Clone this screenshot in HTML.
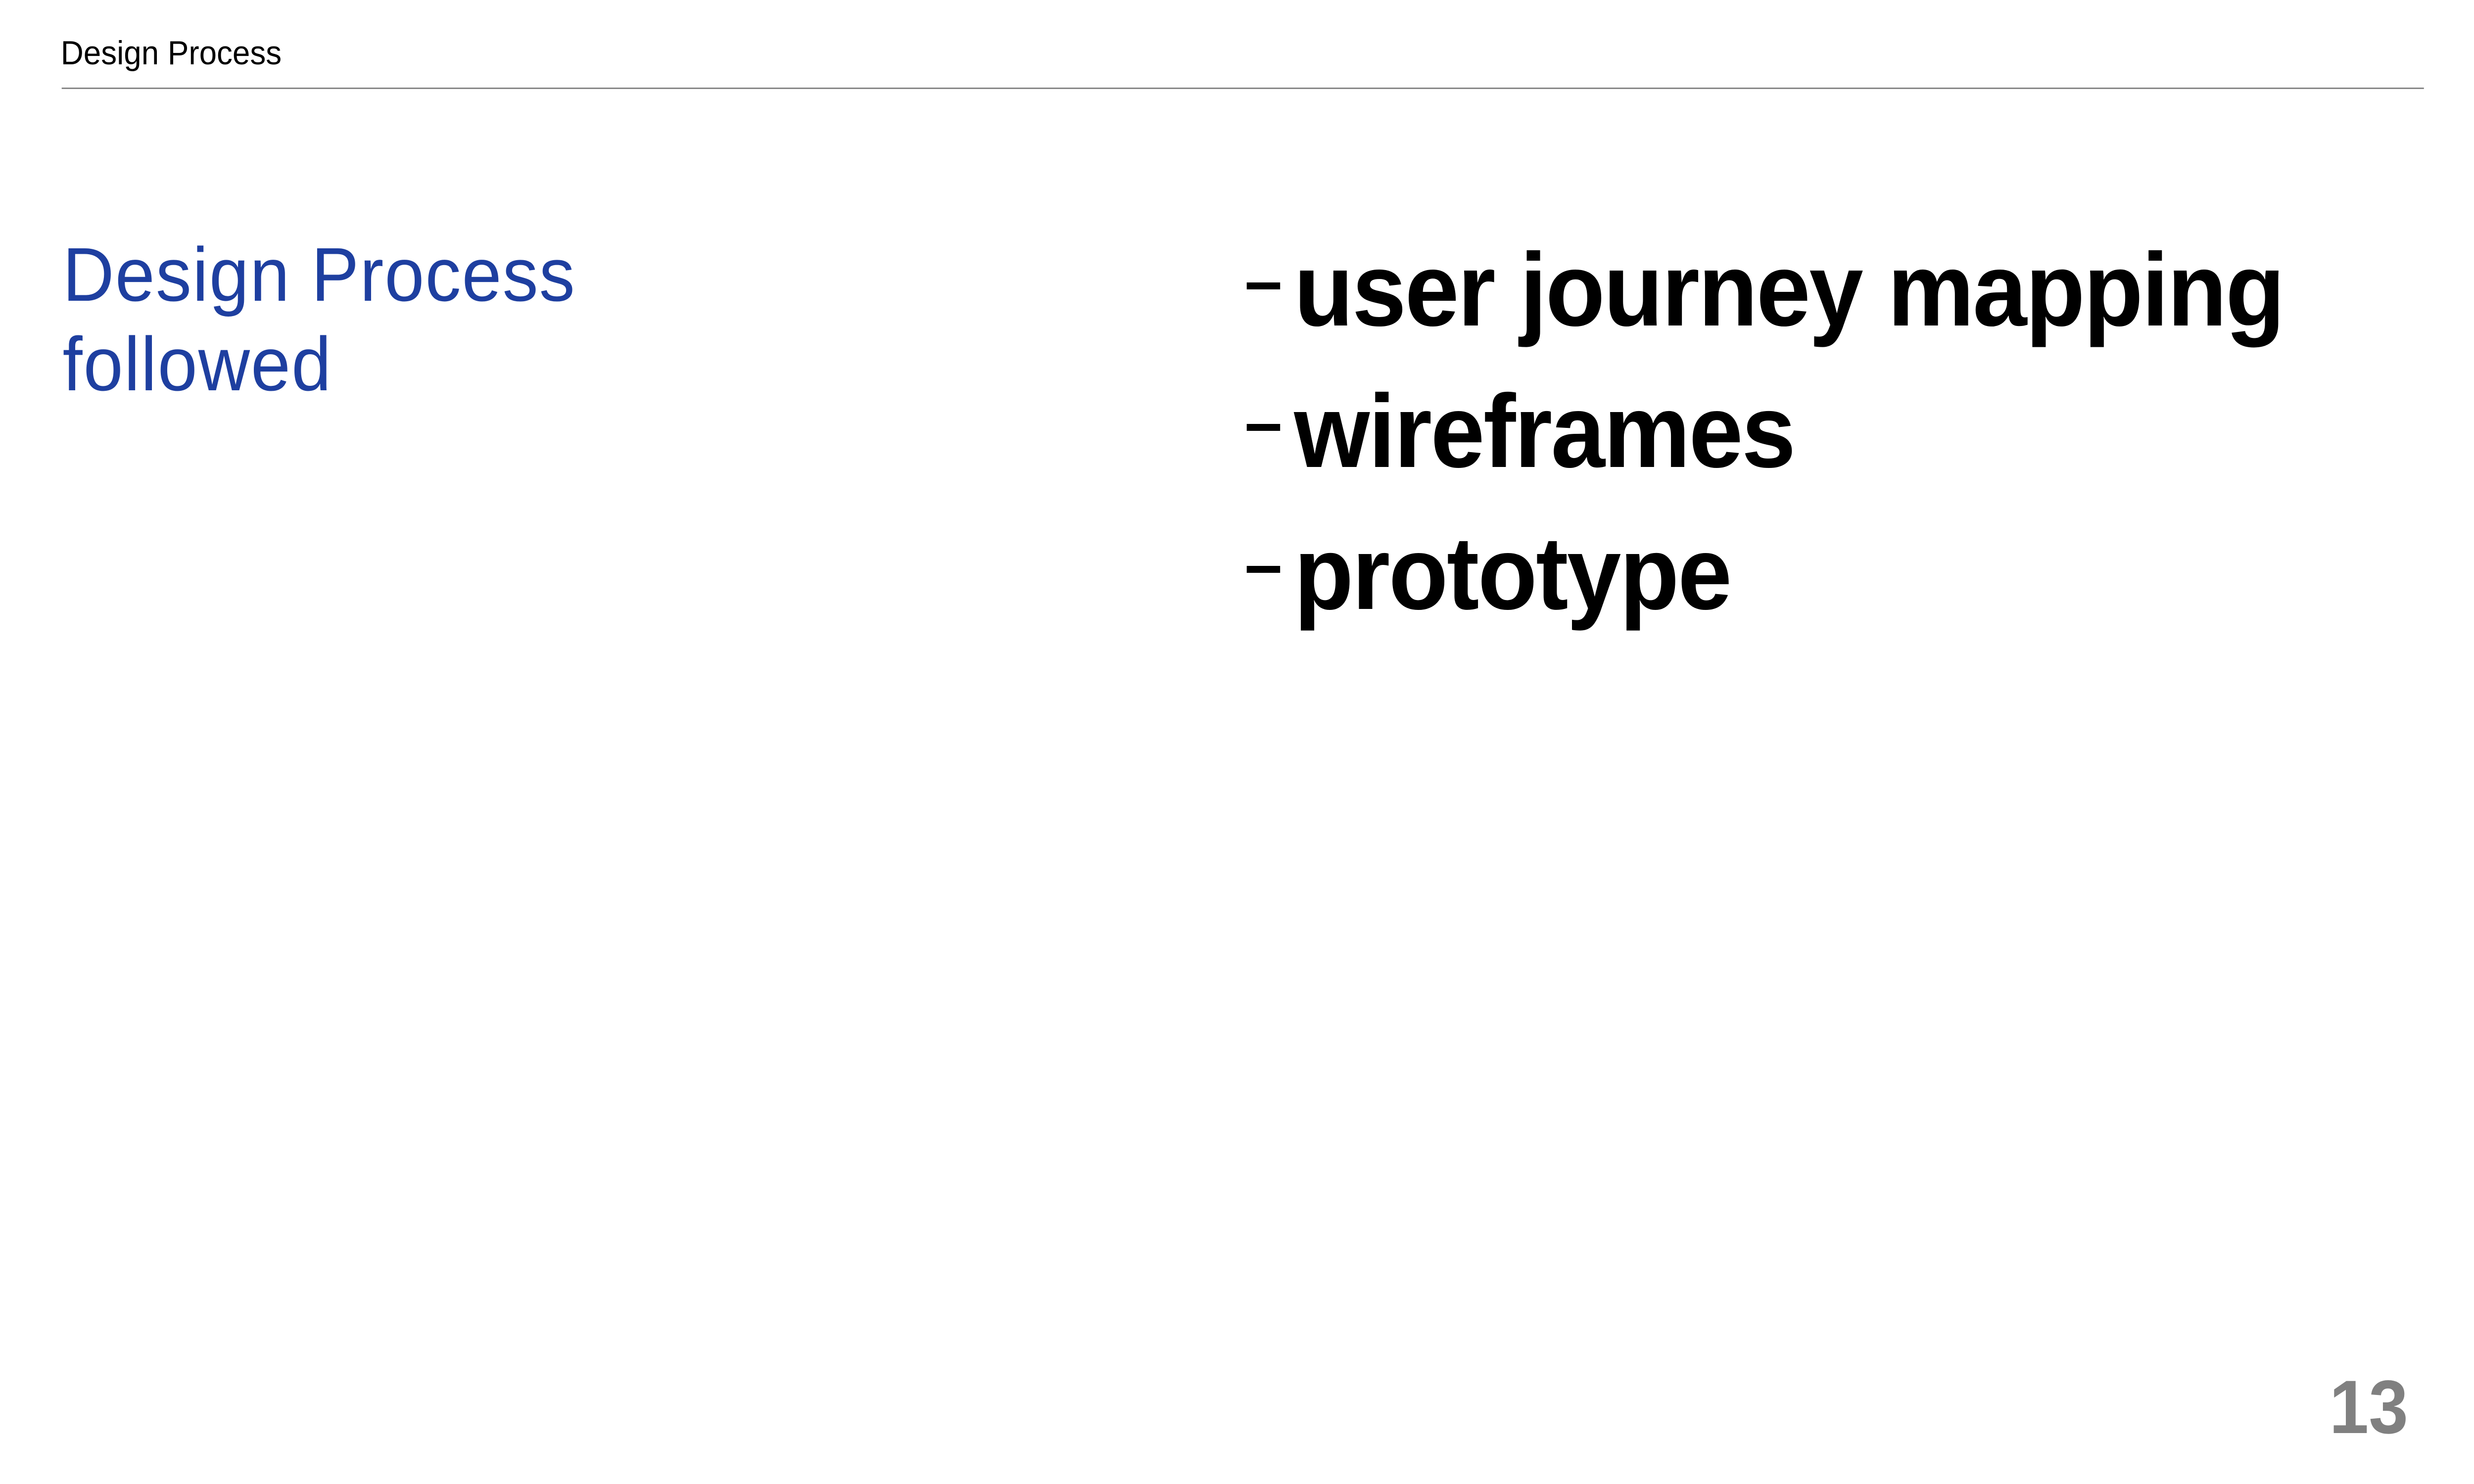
<!DOCTYPE html>
<html><head><meta charset="utf-8"><style>
html,body{margin:0;padding:0;background:#fff;width:100%;height:100%;overflow:hidden;}
svg{display:block;position:fixed;left:0;top:0;width:100vw;height:100vh;}
</style></head><body>
<svg viewBox="0 0 5334 3000" preserveAspectRatio="none" xmlns="http://www.w3.org/2000/svg">
<rect width="5334" height="3000" fill="#fff"/>
<text x="131" y="130" font-family="Liberation Sans, sans-serif" font-size="68" fill="#000">Design Process</text>
<rect x="133" y="177" width="5093" height="3" fill="#888"/>
<text x="135" y="608" font-family="Liberation Sans, sans-serif" font-size="154" letter-spacing="2" fill="#1E3FA0">Design Process</text>
<text x="135" y="789" font-family="Liberation Sans, sans-serif" font-size="154" letter-spacing="2" fill="#1E3FA0">followed</text>
<rect x="2688" y="571" width="72" height="14" fill="#000"/>
<rect x="2688" y="857" width="72" height="14" fill="#000"/>
<rect x="2688" y="1144" width="72" height="14" fill="#000"/>
<g font-family="Liberation Sans, sans-serif" font-size="210" font-weight="bold" fill="#000" letter-spacing="-3">
<text x="2790" y="658">user journey mapping</text>
<text x="2790" y="944">wireframes</text>
<text x="2790" y="1231">prototype</text>
</g>
<text x="5022" y="2897" font-family="Liberation Sans, sans-serif" font-size="153" font-weight="bold" fill="#808080">13</text>
</svg>
</body></html>
